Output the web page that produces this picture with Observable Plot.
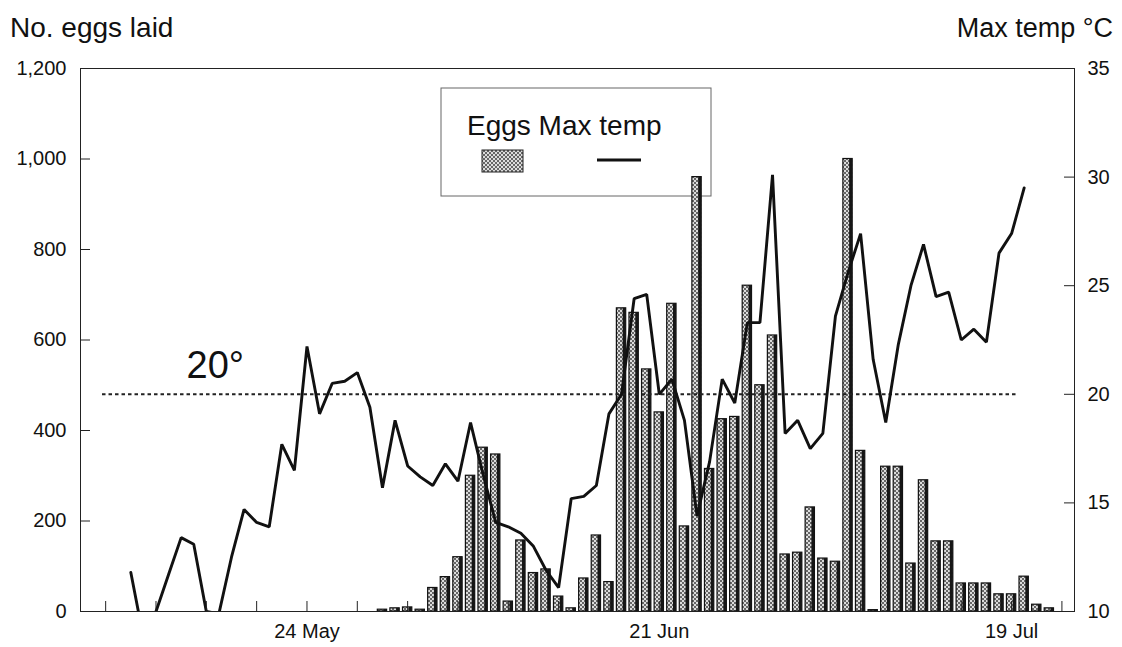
<!DOCTYPE html>
<html>
<head>
<meta charset="utf-8">
<script src="https://cdn.jsdelivr.net/npm/d3@7"></script>
<script src="https://cdn.jsdelivr.net/npm/@observablehq/plot@0.6"></script>
<style>
  html, body { margin: 0; padding: 0; background: #fff; }
  #chart { position: relative; width: 1122px; height: 647px; font-family: "Liberation Sans", Arial, sans-serif; }
  #chart > svg { position: absolute; left: 0; top: 0; }
</style>
</head>
<body>
<!-- shared fill pattern for the egg bars -->
<svg width="0" height="0" style="position:absolute">
  <defs>
    <pattern id="stipple" width="4" height="4" patternUnits="userSpaceOnUse">
      <rect width="4" height="4" fill="#dcdcdc"/>
      <rect x="0" y="0" width="2" height="2" fill="#666"/>
      <rect x="2" y="2" width="2" height="2" fill="#666"/>
    </pattern>
  </defs>
</svg>
<div id="chart">
  <svg id="annot" width="1122" height="647" style="font-family:'Liberation Sans', Arial, sans-serif; fill:#111">
    <text x="10" y="37" font-size="28">No. eggs laid</text>
    <text x="1113" y="37" font-size="27" text-anchor="end">Max temp °C</text>
    <g id="legend" transform="translate(441,88)">
      <rect width="270" height="108" fill="none" stroke="#666" stroke-width="1"/>
      <text x="26" y="47" font-size="28">Eggs Max temp</text>
      <rect x="41" y="62" width="41" height="22" fill="url(#stipple)" stroke="#222" stroke-width="1"/>
      <line x1="156" x2="200" y1="72" y2="72" stroke="#111" stroke-width="2.8"/>
    </g>
  </svg>
</div>
<script>
// Daily observations, 10 May – 22 Jul
const firstDay = "2000-05-10";
const lastDay = "2000-07-22";

// Eggs laid per day (null = no count)
const eggs = [
  null, null, null, null, null, null, null, null, null, null,
  null, null, null, null, null, null, null, null, null, null,
  4, 7, 9, 4, 52, 76, 120, 300, 362, 347,
  22, 157, 85, 93, 33, 7, 73, 168, 65, 670,
  660, 535, 440, 680, 188, 960, 315, 425, 430, 720,
  500, 610, 126, 130, 230, 117, 110, 1000, 355, 3,
  320, 320, 106, 290, 155, 155, 62, 62, 62, 38,
  38, 77, 15, 7
];

// Daily maximum temperature, °C
const maxTemp = [
  11.8, 8.8, 10.0, 11.7, 13.4, 13.1, 10.0, 9.9, 12.5, 14.7,
  14.1, 13.9, 17.7, 16.5, 22.2, 19.1, 20.5, 20.6, 21.0, 19.4,
  15.7, 18.8, 16.7, 16.2, 15.8, 16.8, 16.0, 18.7, 16.3, 14.1,
  13.9, 13.6, 13.0, 11.9, 11.1, 15.2, 15.3, 15.8, 19.1, 20.0,
  24.4, 24.6, 20.0, 20.7, 18.8, 14.4, 16.9, 20.7, 19.6, 23.3,
  23.3, 30.1, 18.2, 18.8, 17.5, 18.2, 23.6, 25.6, 27.4, 21.6,
  18.7, 22.3, 25.0, 26.9, 24.5, 24.7, 22.5, 23.0, 22.4, 26.5,
  27.4, 29.5, null, null
];

const xStart = "2000-05-06", xEnd = "2000-07-24";
const eggTicks = [0, 200, 400, 600, 800, 1000, 1200];
const tempTicks = [10, 15, 20, 25, 30, 35];
const dateLabels = ["2000-05-24", "2000-06-21", "2000-07-19"];
const minorTickStart = "2000-05-08";
const threshold = 20;
const thresholdSpan = ["2000-05-07T18:00Z", "2000-07-19T12:00Z"];
const thresholdLabelAt = "2000-05-16T17:00Z";

const DAY = 864e5;
const days = d3.utcDay.range(new Date(firstDay), d3.utcDay.offset(new Date(lastDay), 1));
const rows = days.map((date, i) => ({date, eggs: eggs[i], temp: maxTemp[i]}));
const bars = rows.filter(d => d.eggs != null);
const minorTicks = d3.utcDay.range(new Date(minorTickStart), new Date(xEnd), 4);

// temperature is drawn against the egg scale: 10–35 °C spans 0–1,200
const tempToY = d3.scaleLinear([10, 35], [0, 1200]);
const shift = (date, f) => new Date(+date + f * DAY);

const font = "'Liberation Sans', Arial, sans-serif";

const chart = Plot.plot({
  width: 1122,
  height: 647,
  marginLeft: 80,
  marginRight: 48,
  marginTop: 68,
  marginBottom: 36,
  style: {background: "transparent", fontFamily: font, fontSize: "19px", color: "#111"},
  x: {type: "utc", domain: [new Date(xStart), new Date(xEnd)], label: null},
  y: {domain: [0, 1200], label: null},
  marks: [
    Plot.rect(bars, {
      x1: d => shift(d.date, -0.37), x2: d => shift(d.date, 0.37),
      y1: 0, y2: "eggs",
      fill: "url(#stipple)", stroke: "#111", strokeWidth: 1.2
    }),
    Plot.rect(bars, {
      x1: d => shift(d.date, 0.13), x2: d => shift(d.date, 0.37),
      y1: 0, y2: "eggs", fill: "#161616"
    }),
    Plot.ruleY([threshold], {
      y: tempToY,
      x1: () => new Date(thresholdSpan[0]), x2: () => new Date(thresholdSpan[1]),
      stroke: "#222", strokeWidth: 2, strokeDasharray: "3.5,3"
    }),
    Plot.text([threshold], {
      x: () => new Date(thresholdLabelAt), y: tempToY,
      text: d => `${d}°`, fontSize: 38, dy: -28, fill: "#111"
    }),
    Plot.line(rows.filter(d => d.temp != null), {
      x: "date", y: d => tempToY(d.temp),
      stroke: "#111", strokeWidth: 2.9, strokeLinejoin: "miter", clip: true
    }),
    Plot.frame({stroke: "#222", strokeWidth: 1}),
    // inward tick marks
    Plot.axisX(minorTicks, {tickSize: 10, dy: -10, tickFormat: () => "", stroke: "#222"}),
    Plot.axisY(eggTicks, {anchor: "left", tickSize: 10, dx: 10, tickFormat: () => "", stroke: "#222"}),
    Plot.axisY(tempTicks.map(tempToY), {anchor: "right", tickSize: 11, dx: -11, tickFormat: () => "", stroke: "#222"}),
    // tick labels
    Plot.axisX(dateLabels.map(d => new Date(d)), {tickSize: 0, tickPadding: 12, tickFormat: d3.utcFormat("%-d %b"), fontSize: 20, fill: "#111"}),
    Plot.axisY(eggTicks, {anchor: "left", tickSize: 0, tickPadding: 14, tickFormat: d3.format(","), fontSize: 20, fill: "#111"}),
    Plot.axisY(tempTicks.map(tempToY), {anchor: "right", tickSize: 0, tickPadding: 13, tickFormat: v => Math.round(tempToY.invert(v)), fontSize: 20, fill: "#111"})
  ]
});

document.getElementById("chart").appendChild(chart);
</script>
</body>
</html>
